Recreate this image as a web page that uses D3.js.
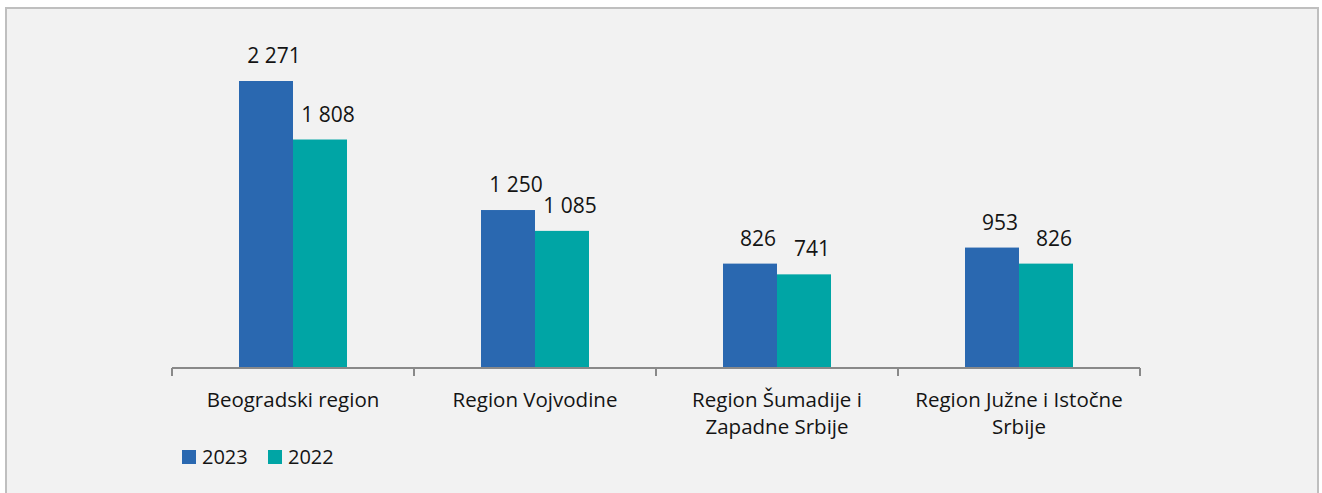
<!DOCTYPE html>
<html><head><meta charset="utf-8">
<script src="https://cdn.jsdelivr.net/npm/d3@7"></script>
<style>
html,body{margin:0;padding:0;background:#fff;}
svg{display:block;}
text{font-family:"Open Sans","Noto Sans",sans-serif;fill:#141414;}
</style></head><body>
<script>
const categories = [["Beogradski region"], ["Region Vojvodine"], ["Region Šumadije i", "Zapadne Srbije"], ["Region Južne i Istočne", "Srbije"]];
const seriesNames = ["2023", "2022"];
const values2023 = [2271, 1250, 826, 953];
const values2022 = [1808, 1085, 741, 826];
const colors = ["#2a68b0", "#00a5a5"];

const W = 1322, H = 493;
const svg = d3.select("body").append("svg").attr("width", W).attr("height", H);
svg.append("rect").attr("x", 6).attr("y", 8).attr("width", 1312).attr("height", 500)
  .attr("fill", "#f2f2f2").attr("stroke", "#bfbfbf").attr("stroke-width", 2);

const x0 = d3.scaleBand().domain(d3.range(categories.length)).range([172, 1140]).paddingInner(0).paddingOuter(0);
const y = d3.scaleLinear().domain([0, 2271]).range([368, 81]);

const data = categories.map((c, i) => ({i, vals: [values2023[i], values2022[i]]}));
const g = svg.append("g");
const barW = 54;
data.forEach(d => {
  const cx = x0(d.i) + x0.bandwidth() / 2;
  d.vals.forEach((v, k) => {
    const bx = cx - barW + k * barW;
    g.append("rect").attr("x", bx).attr("y", y(v)).attr("width", barW).attr("height", y(0) - y(v))
      .attr("fill", colors[k]);
    g.append("text").attr("x", bx + barW / 2 + 8).attr("y", y(v) - 18).attr("text-anchor", "middle")
      .attr("font-size", 21).text(d3.format(",")(v).replace(",", " "));
  });
});

// axis
const ax = svg.append("g").attr("transform", "translate(0,368)");
ax.append("line").attr("x1", 172).attr("x2", 1140).attr("stroke", "#898989").attr("stroke-width", 2);
d3.range(categories.length + 1).forEach(i => {
  const tx = i < categories.length ? x0(i) : x0(i - 1) + x0.bandwidth();
  ax.append("line").attr("x1", tx).attr("x2", tx).attr("y1", 0).attr("y2", 8)
    .attr("stroke", "#898989").attr("stroke-width", 2);
});
categories.forEach((lines, i) => {
  const t = svg.append("text").attr("text-anchor", "middle").attr("font-size", 20.5);
  lines.forEach((ln, j) => {
    t.append("tspan").attr("x", x0(i) + x0.bandwidth() / 2).attr("y", 407 + j * 27).text(ln);
  });
});

// legend
const leg = [{x: 182}, {x: 268}];
seriesNames.forEach((s, k) => {
  svg.append("rect").attr("x", leg[k].x).attr("y", 450).attr("width", 14).attr("height", 14).attr("fill", colors[k]);
  svg.append("text").attr("x", leg[k].x + 20).attr("y", 464).attr("font-size", 20).text(s);
});
</script>
</body></html>
